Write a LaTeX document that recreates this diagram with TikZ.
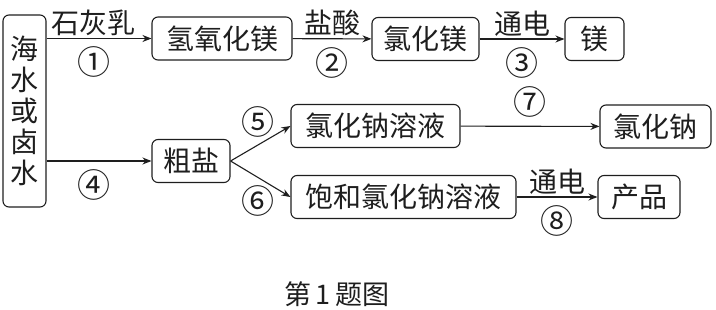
\documentclass[tikz,border=0pt]{standalone}
\usepackage{fontspec}
\usetikzlibrary{arrows.meta}
\newfontfamily\cjk{Noto Sans CJK SC}
\definecolor{flowink}{HTML}{1E1E1E}

\begin{document}
\begin{tikzpicture}[x=1pt, y=-1pt, >={Stealth[length=9pt,width=7pt]},
                    every node/.style={flowink, font=\cjk\fontsize{28}{32}\selectfont},
                    stepbox/.style={draw=flowink, line width=1.1pt, rounded corners=6pt,
                                    minimum height=43pt, inner xsep=4pt, inner ysep=2pt},
                    num/.style={font=\cjk\fontsize{33}{36}\selectfont, inner sep=0pt},
                    flow/.style={flowink, line width=1.1pt, ->}]

  \useasboundingbox (0,0) rectangle (716,309);

  %% 原料
  \node[stepbox, minimum width=43pt, minimum height=192pt, align=center,
        font=\cjk\fontsize{28}{31}\selectfont] (sea) at (24.5,111)
    {海\\水\\或\\卤\\水};

  %% 制镁流程
  \node[stepbox, minimum width=140pt] (mgoh) at (222,38.5) {氢氧化镁};
  \node[stepbox, minimum width=107pt] (mgcl) at (425.5,39) {氯化镁};
  \node[stepbox, minimum width=59pt]  (mg)   at (594.5,39) {镁};

  %% 粗盐流程
  \node[stepbox, minimum width=78pt]  (salt)  at (191,161) {粗盐};
  \node[stepbox, minimum width=169pt] (sol)   at (375.5,126) {氯化钠溶液};
  \node[stepbox, minimum width=111pt] (nacl)  at (655.5,126.5) {氯化钠};
  \node[stepbox, minimum width=225pt] (sat)   at (403.5,197) {饱和氯化钠溶液};
  \node[stepbox, minimum width=82pt]  (prod)  at (639,197) {产品};

  %% 箭头
  \draw[flow] (sea.east |- mgoh.west) -- (mgoh.west)
    node[pos=0.45, above=-1pt] (lime) {石灰乳}
    node[pos=0.45, below=8pt, num] (s1) {①};
  \draw[flow] (mgoh) -- (mgcl)
    node[midway, above=-1pt] (hcl) {盐酸}
    node[midway, below=8pt, num] (s2) {②};
  \draw[flow] (mgcl) -- (mg)
    node[midway, above=-1pt] (el1) {通电}
    node[midway, below=8pt, num] (s3) {③};
  \draw[flow] (sea.east |- salt.west) -- (salt.west)
    node[pos=0.45, below=8pt, num] (s4) {④};
  \draw[flow] (salt.east) -- (sol.west);
  \draw[flow] (salt.east) -- (sat.west);
  \node[num] (s5) at (258,122) {⑤};
  \node[num] (s6) at (258,201) {⑥};
  \draw[flow] (sol) -- (nacl)
    node[midway, above=8pt, num] (s7) {⑦};
  \draw[flow] (sat) -- (prod)
    node[midway, above=-1pt] (el2) {通电}
    node[midway, below=8pt, num] (s8) {⑧};

  %% 图题
  \node[font=\cjk\fontsize{27}{30}\selectfont] (cap) at (337,294) {第\,1\,题图};

\end{tikzpicture}
\end{document}
